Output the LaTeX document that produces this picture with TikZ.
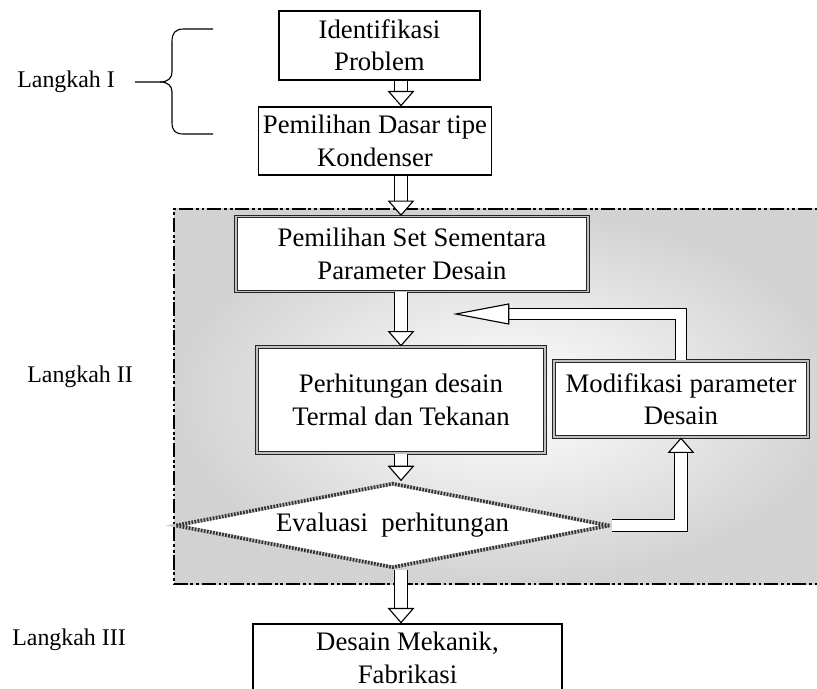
\documentclass[tikz,border=0pt]{standalone}
\usepackage{fontspec}
\setmainfont{Liberation Serif}
\usetikzlibrary{arrows.meta,calc,positioning,shapes.geometric}
\tikzset{%
	plainbox/.style  = {draw, rectangle, line width=0.8pt, fill=white, align=center},
	dblbox/.style    = {draw=black!85, double=gray!50, double distance=1.4pt, line width=0.7pt, fill=white, rectangle, align=center},
	evalbox/.style   = {diamond, aspect=5, inner sep=0pt, fill=white, draw=gray!45, line width=2.6pt, postaction={draw=black!80, line width=2.6pt, dash pattern=on 1.2pt off 1pt}},
	steplabel/.style = {anchor=west, inner sep=0pt, font=\fontsize{17}{20}\selectfont},
	hollow/.style    = {draw=black, line width=0.8pt, double=white, double distance=8pt, -{Triangle[fill=white, length=11pt, width=19pt]}},
	fbhollow/.style  = {draw=black, line width=0.8pt, double=white, double distance=6.9pt, -{Triangle[fill=white, length=40pt, width=15pt]}},
	frame/.style     = {line width=1.8pt, dash pattern=on 10pt off 2pt on 2pt off 2pt on 2pt off 2pt},
}

\begin{document}
\begin{tikzpicture}[x=0.025cm, y=-0.025cm, font=\fontsize{19}{23}\selectfont]
	\useasboundingbox (0,0) rectangle (817,689);
	% area of step II
	\shade[inner color=white, outer color=gray!35] (174,209) rectangle (840,584);
	\draw[frame] (840,209) -- (174,209) -- (174,584) -- (840,584);

	\node [plainbox, minimum width=5.025cm, minimum height=1.725cm] (ident) at (379.5,45.5) {Identifikasi\\Problem};
	\node [plainbox, minimum width=5.65cm, minimum height=1.7cm] (basic) at (375,141) {Pemilihan Dasar tipe\\Kondenser};
	\node [dblbox, minimum width=8.775cm, minimum height=1.875cm] (param) at (412,254) {Pemilihan Set Sementara\\Parameter Desain};
	\node [dblbox, minimum width=7.2cm, minimum height=2.65cm] (perh) at (401,400) {Perhitungan desain\\Termal dan Tekanan};
	\node [dblbox, minimum width=6.35cm, minimum height=1.9cm] (modif) at (681,399) {Modifikasi parameter\\Desain};
	\node [evalbox, minimum width=10.875cm, minimum height=2.125cm] (eval) at (392.5,525.5) {Evaluasi~~perhitungan};
	\node [plainbox, minimum width=7.725cm, minimum height=1.7cm] (mech) at (407.5,658) {Desain Mekanik,\\Fabrikasi};

	\coordinate (axis) at (401,0);
	\coordinate (fbend) at (453,314);

	\draw[hollow] (ident.south -| axis) -- (basic.north -| axis);
	\draw[hollow] (basic.south -| axis) -- (param.north -| axis);
	\draw[hollow] (param.south -| axis) -- (perh.north -| axis);
	\draw[hollow] (perh.south -| axis) -- (eval.north -| axis);
	\draw[hollow] (eval.south -| axis) -- (mech.north -| axis);
	\draw[hollow] (eval.east) -| (modif.south);
	\draw[fbhollow] (modif.north) |- (fbend);

	% steps
	\node [steplabel] (lang1) at (17,82) {Langkah I};
	\node [steplabel] (lang2) at (27,377) {Langkah II};
	\node [steplabel] (lang3) at (12,640) {Langkah III};
	\draw[line width=0.8pt] ($(lang1.east)+(20,0)$) -- (160,82)
		.. controls (168,82) and (172,78) .. (172,72) -- (172,42)
		.. controls (172,33) and (175,29) .. (184,29) -- (213,29);
	\draw[line width=0.8pt] (160,82)
		.. controls (168,82) and (172,86) .. (172,92) -- (172,122)
		.. controls (172,131) and (175,134) .. (184,134) -- (213,134);
\end{tikzpicture}
\end{document}
